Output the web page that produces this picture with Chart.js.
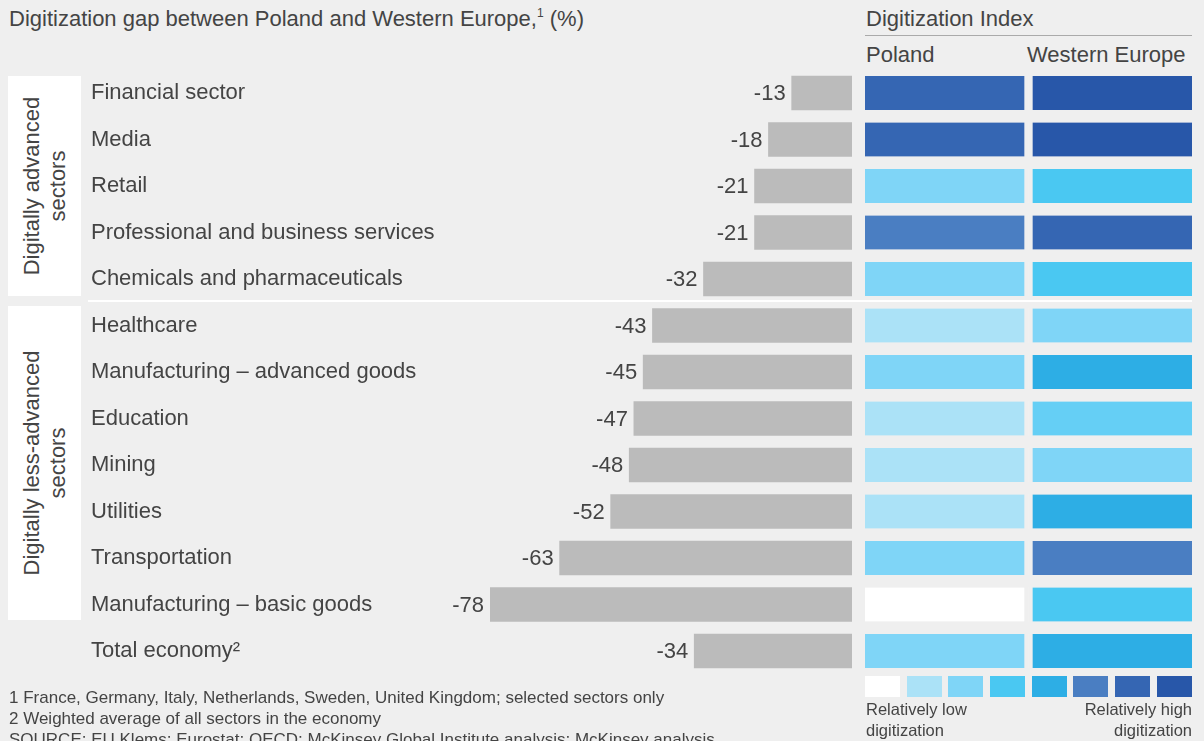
<!DOCTYPE html>
<html>
<head>
<meta charset="utf-8">
<script src="https://cdn.jsdelivr.net/npm/chart.js@4.4.1/dist/chart.umd.min.js"></script>
<style>
  html, body { margin: 0; padding: 0; }
  body {
    width: 1204px; height: 741px; overflow: hidden; position: relative;
    background: #efefef; font-family: "Liberation Sans", Arial, sans-serif; color: #444;
  }
  .txt { position: absolute; white-space: nowrap; }
  .t22 { font-size: 22px; line-height: 24px; }
  .t17 { font-size: 17px; line-height: 21px; }
  .t16 { font-size: 16.5px; line-height: 21px; }
  .box { position: absolute; left: 8px; width: 73px; background: #fff; }
  .rot {
    position: absolute; left: 50%; top: 50%; width: 260px; margin-left: -130px;
    text-align: center; font-size: 22px; line-height: 26px;
    transform: translateY(-50%) rotate(-90deg);
  }
  .sep { position: absolute; left: 88px; width: 1104px; top: 300px; height: 2px; background: #fff; }
  .rule { position: absolute; left: 865px; width: 327px; top: 35px; height: 1px; background: #aaa; }
  .sw { position: absolute; top: 676px; width: 35px; height: 21px; }
  canvas { position: absolute; top: 0; }
</style>
</head>
<body>

<div class="txt t22" style="left:9px; top:7px;">Digitization gap between Poland and Western Europe,<sup style="font-size:12px; vertical-align:9px; line-height:0;">1</sup> (%)</div>
<div class="txt t22" style="left:866px; top:7px;">Digitization Index</div>
<div class="rule"></div>
<div class="txt t22" style="left:866px; top:43px;">Poland</div>
<div class="txt t22" style="left:1027px; top:43px;">Western Europe</div>

<div class="box" style="top:76px; height:220px;"><div class="rot">Digitally advanced<br>sectors</div></div>
<div class="box" style="top:306px; height:314px;"><div class="rot">Digitally less-advanced<br>sectors</div></div>

<canvas id="gap" width="860" height="741" style="left:0; width:860px; height:741px;"></canvas>
<canvas id="heat" width="327" height="741" style="left:865px; width:327px; height:741px;"></canvas>
<div class="sep"></div>

<div id="legend"></div>
<div class="txt t16" style="left:866px; top:699px;">Relatively low<br>digitization</div>
<div class="txt t16" style="right:12px; top:699px; text-align:right;">Relatively high<br>digitization</div>

<div class="txt t17" style="left:9px; top:687px;">1 France, Germany, Italy, Netherlands, Sweden, United Kingdom; selected sectors only</div>
<div class="txt t17" style="left:9px; top:708px;">2 Weighted average of all sectors in the economy</div>
<div class="txt t17" style="left:9px; top:729px;">SOURCE: EU Klems; Eurostat; OECD; McKinsey Global Institute analysis; McKinsey analysis</div>

<script>
// data
const sectors = [
  "Financial sector",
  "Media",
  "Retail",
  "Professional and business services",
  "Chemicals and pharmaceuticals",
  "Healthcare",
  "Manufacturing – advanced goods",
  "Education",
  "Mining",
  "Utilities",
  "Transportation",
  "Manufacturing – basic goods",
  "Total economy²"
];
const gapValues = [-13, -18, -21, -21, -32, -43, -45, -47, -48, -52, -63, -78, -34];

// digitization index level, 0 = relatively low ... 7 = relatively high
const polandLevels = [6, 6, 2, 5, 2, 1, 2, 1, 1, 1, 2, 0, 2];
const westernEuropeLevels = [7, 7, 3, 6, 3, 2, 4, 2.5, 2, 4, 5, 3, 4];
const levelColors = ["#ffffff", "#abe2f7", "#7fd5f7", "#4ac8f2", "#2daee5", "#4a7ec2", "#3566b3", "#2857a9"];

const BG = "#efefef";
const INK = "#444";
const FONT = "'Liberation Sans', Arial, sans-serif";

function hexToRgb(h) {
  return [1, 3, 5].map(i => parseInt(h.substr(i, 2), 16));
}
function levelColor(lv) {
  const lo = Math.floor(lv), hi = Math.ceil(lv), f = lv - lo;
  const a = hexToRgb(levelColors[lo]), b = hexToRgb(levelColors[hi]);
  const c = a.map((v, i) => Math.round(v + (b[i] - v) * f));
  return "rgb(" + c.join(",") + ")";
}

// legend swatches
const legendX = [865, 907, 948, 990, 1032, 1073, 1115, 1157];
const legendEl = document.getElementById("legend");
levelColors.forEach((c, i) => {
  const d = document.createElement("div");
  d.className = "sw";
  d.style.left = legendX[i] + "px";
  d.style.background = c;
  legendEl.appendChild(d);
});

const padTop = 69.75, padBottom = 741 - 674.25;

const valueLabels = {
  id: "valueLabels",
  afterDatasetsDraw(chart) {
    const ctx = chart.ctx;
    const meta = chart.getDatasetMeta(0);
    ctx.save();
    ctx.font = "22px " + FONT;
    ctx.fillStyle = INK;
    ctx.textAlign = "right";
    ctx.textBaseline = "middle";
    meta.data.forEach((bar, i) => {
      ctx.fillText(String(gapValues[i]), bar.x - 6, bar.y + 1);
    });
    ctx.restore();
  }
};

new Chart(document.getElementById("gap"), {
  type: "bar",
  data: {
    labels: sectors,
    datasets: [{
      data: gapValues,
      backgroundColor: "#bbbbbb",
      barThickness: 34
    }]
  },
  options: {
    indexAxis: "y",
    responsive: false,
    animation: false,
    layout: { padding: { left: 91, right: 8, top: padTop, bottom: padBottom } },
    plugins: { legend: { display: false }, tooltip: { enabled: false } },
    scales: {
      x: { min: -78, max: 0, display: false },
      y: {
        grid: { display: false },
        border: { display: false },
        afterFit: (scale) => { scale.width = 490 - 91; },
        ticks: {
          crossAlign: "far",
          padding: 0,
          color: INK,
          font: { size: 22, family: FONT }
        }
      }
    }
  },
  plugins: [valueLabels]
});

new Chart(document.getElementById("heat"), {
  type: "bar",
  data: {
    labels: sectors,
    datasets: [
      {
        label: "Poland",
        data: sectors.map(() => [0, 1]),
        backgroundColor: polandLevels.map(levelColor),
        borderColor: BG,
        borderWidth: { left: 0, right: 4.5, top: 0, bottom: 0 },
        borderSkipped: false,
        barThickness: 34,
        grouped: false
      },
      {
        label: "Western Europe",
        data: sectors.map(() => [1, 2]),
        backgroundColor: westernEuropeLevels.map(levelColor),
        borderColor: BG,
        borderWidth: { left: 4.5, right: 0, top: 0, bottom: 0 },
        borderSkipped: false,
        barThickness: 34,
        grouped: false
      }
    ]
  },
  options: {
    indexAxis: "y",
    responsive: false,
    animation: false,
    layout: { padding: { left: 0, right: 0, top: padTop, bottom: padBottom } },
    plugins: { legend: { display: false }, tooltip: { enabled: false } },
    scales: {
      x: { min: 0, max: 2, display: false },
      y: { display: false }
    }
  }
});
</script>
</body>
</html>
